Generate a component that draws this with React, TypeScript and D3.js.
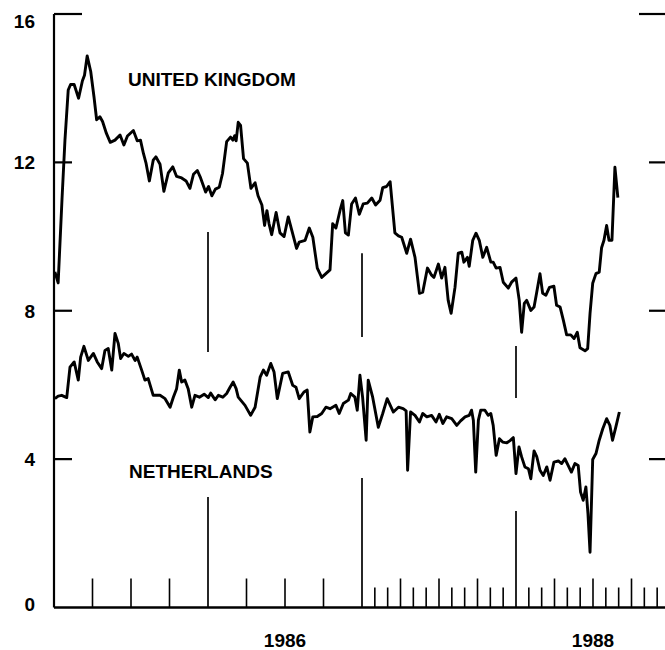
import React from "react";
import * as d3 from "d3";

// weeks since 1 Jan 1985, and yield values (percent)
const ukWeeks = [0.3,1.4,2.7,3.7,4.8,5.6,6.8,8.3,9.6,10.3,11.2,12.4,13.5,14.4,15.5,16.4,17.7,19.0,20.6,22.3,23.6,24.8,26.8,28.1,29.2,30.2,31.1,32.2,33.5,34.4,35.8,37.1,38.6,40.1,41.4,43.1,44.6,45.9,47.1,48.4,49.5,51.2,52.2,53.3,54.5,55.8,56.9,58.3,59.6,60.4,61.0,61.5,62.2,63.0,64.0,65.3,66.5,67.9,68.9,70.2,71.1,71.9,72.6,73.5,75.0,76.3,77.7,79.1,80.3,81.9,82.8,84.8,86.2,87.4,88.9,90.4,91.8,93.2,94.1,95.2,96.6,97.5,98.4,99.4,100.5,101.8,103.1,104.4,105.8,107.3,108.6,110.1,111.0,112.3,113.5,115.1,116.3,117.4,119.1,120.4,121.9,123.4,124.5,126.1,127.5,128.3,129.8,130.9,132.0,133.1,134.1,135.4,136.5,137.7,138.4,139.6,140.2,141.4,142.5,143.6,144.8,146.1,147.5,148.3,149.3,150.6,151.7,153.4,154.5,156.0,157.1,157.9,158.8,159.6,161.0,162.1,163.0,164.1,165.0,166.1,167.3,168.8,169.7,170.9,172.0,173.1,174.5,175.6,176.7,177.6,179.3,180.2,181.0,181.9,183.0,184.1,184.9,185.7,186.6,187.4,188.4,189.4,190.4];
const ukValues = [9.05,8.75,11.0,12.6,13.95,14.1,14.1,13.73,14.2,14.35,14.87,14.45,13.77,13.15,13.23,13.1,12.78,12.54,12.6,12.74,12.47,12.71,12.86,12.58,12.6,12.24,11.97,11.5,12.06,12.15,11.95,11.22,11.72,11.88,11.62,11.58,11.5,11.3,11.68,11.78,11.58,11.2,11.35,11.1,11.28,11.33,11.7,12.56,12.68,12.6,12.72,12.58,13.08,13.0,12.1,11.98,11.3,11.45,11.1,10.85,10.3,10.7,10.35,10.05,10.65,10.1,10.0,10.53,10.17,9.68,9.85,9.9,10.23,9.98,9.15,8.9,9.0,9.1,10.35,10.23,10.71,10.97,10.1,10.04,10.88,11.04,10.6,10.88,10.9,11.04,10.85,10.98,11.32,11.35,11.48,10.1,10.02,9.98,9.55,9.93,9.44,8.47,8.5,9.15,8.96,8.9,9.26,8.88,9.17,8.28,7.93,8.63,9.55,9.58,9.31,9.44,9.2,9.9,10.09,9.9,9.44,9.71,9.31,9.31,9.15,9.17,8.77,8.61,8.77,8.88,8.28,7.42,8.2,8.28,8.01,8.1,8.5,9.0,8.47,8.42,8.63,8.66,8.15,8.1,7.74,7.35,7.35,7.25,7.42,7.0,6.92,6.98,7.93,8.74,9.0,9.04,9.7,9.9,10.3,9.9,9.9,11.87,11.05];

const nlWeeks = [0.3,1.4,2.6,4.3,5.4,6.8,8.2,9.0,10.1,11.6,13.3,14.6,16.1,17.2,18.3,19.5,20.6,21.7,22.5,23.6,25.1,26.2,27.4,28.1,29.6,30.7,31.8,33.5,35.8,37.5,39.2,40.3,41.4,42.3,43.1,44.2,45.3,46.5,47.6,49.1,50.7,52.1,52.9,54.4,55.5,57.0,58.3,59.4,60.5,61.5,62.2,64.5,66.4,67.9,69.6,70.7,71.8,73.2,74.3,75.4,77.2,79.1,80.6,81.7,82.8,84.4,85.5,86.4,87.4,88.9,90.4,91.8,93.2,95.2,96.3,97.7,99.4,100.2,101.6,102.4,103.3,104.2,105.4,106.1,107.6,109.5,111.0,112.5,114.6,116.3,117.9,118.9,119.4,120.4,121.9,123.4,124.5,125.9,127.5,129.0,130.1,131.3,132.6,134.3,136.0,137.3,138.8,140.2,141.0,141.6,142.4,143.3,144.1,145.5,146.6,147.5,148.3,149.3,150.4,151.5,152.9,154.0,155.1,156.0,157.0,157.9,159.0,160.2,161.0,162.1,163.0,164.1,165.2,166.4,167.5,168.8,170.3,171.4,172.5,173.6,174.7,175.9,177.0,177.8,178.7,179.6,180.3,181.0,181.9,183.0,184.1,185.3,186.6,187.7,188.6,189.7,190.9];
const nlValues = [5.63,5.7,5.72,5.66,6.48,6.62,6.13,6.75,7.04,6.66,6.85,6.62,6.44,6.93,6.98,6.4,7.39,7.12,6.71,6.85,6.77,6.83,6.66,6.75,6.4,6.13,6.17,5.72,5.72,5.63,5.4,5.67,5.9,6.4,6.08,6.13,5.9,5.4,5.72,5.67,5.75,5.66,5.78,5.6,5.72,5.67,5.77,5.93,6.08,5.9,5.67,5.45,5.18,5.4,6.21,6.4,6.26,6.58,6.35,5.63,6.31,6.35,5.99,5.94,5.63,5.81,5.86,4.73,5.14,5.15,5.23,5.4,5.36,5.45,5.23,5.5,5.59,5.77,5.67,5.32,6.26,5.67,4.51,6.13,5.67,4.86,5.23,5.63,5.27,5.4,5.36,5.3,3.7,5.27,5.18,5.0,5.23,5.14,5.18,5.0,5.21,4.96,5.14,5.09,4.91,5.03,5.14,5.18,5.32,5.05,3.65,5.05,5.32,5.32,5.18,5.23,4.91,4.1,4.55,4.46,4.44,4.5,4.58,3.61,4.33,4.06,3.79,3.74,3.47,4.22,4.07,3.7,3.56,3.79,3.43,3.92,3.95,3.88,4.01,3.83,3.65,3.88,3.83,3.11,2.89,3.25,2.53,1.49,3.99,4.15,4.51,4.82,5.09,4.91,4.51,4.86,5.27];

const yTicks = [0, 4, 8, 12, 16];
const yearLabels = [1986, 1988];
const quarterTickYears = [1985, 1986];
const monthTickYears = [1987, 1988];
// year divider segments: [year, top value, bottom value]
const yearDividers: [number, number, number][] = [
  [1986, 10.12, 6.89], [1986, 2.98, 0],
  [1987, 9.55, 7.29], [1987, 3.49, 0],
  [1988, 7.05, 5.65], [1988, 2.6, 0],
];

export default function App() {
  const W = 665, H = 650;
  const x = d3.scaleLinear().domain([1985, 1989]).range([54, 670]);
  const y = d3.scaleLinear().domain([0, 16]).range([607.5, 14]);
  const wk = (w: number) => 1985 + w / 52;

  const line = d3.line<[number, number]>()
    .x((d) => x(wk(d[0])))
    .y((d) => y(d[1]));

  const uk = ukWeeks.map((w, i) => [w, ukValues[i]] as [number, number]);
  const nl = nlWeeks.map((w, i) => [w, nlValues[i]] as [number, number]);

  const font = "'Liberation Sans', Arial, Helvetica, sans-serif";
  const axisLeft = x(1985);
  const axisRight = 667;

  const smallTicks: { t: number; len: number }[] = [];
  quarterTickYears.forEach((yr) => {
    for (let q = 1; q < 4; q++) smallTicks.push({ t: yr + q / 4, len: 29 });
  });
  monthTickYears.forEach((yr) => {
    for (let m = 1; m < 12; m++) smallTicks.push({ t: yr + m / 12, len: m % 3 === 0 ? 29 : 20 });
  });

  return (
    <svg width={W} height={H} style={{ position: "fixed", left: 0, top: 0, background: "#fff" }}>
      <rect width={W} height={H} fill="#fff" />
      <line x1={axisLeft} x2={axisLeft} y1={y(16)} y2={y(0)} stroke="#000" strokeWidth={2.2} />
      <line x1={axisLeft} x2={W} y1={y(0)} y2={y(0)} stroke="#000" strokeWidth={2.4} />
      {yTicks.filter((v) => v > 0).map((v) => {
        const len = v === 16 ? 28 : 18;
        return (
          <g key={v}>
            <line x1={axisLeft} x2={axisLeft + len} y1={y(v)} y2={y(v)} stroke="#000" strokeWidth={2.2} />
            <line x1={axisRight - len} x2={axisRight} y1={y(v)} y2={y(v)} stroke="#000" strokeWidth={2.2} />
          </g>
        );
      })}
      {yTicks.map((v) => (
        <text key={v} x={35} y={y(v) + (v === 16 ? 14 : v === 0 ? 3 : 7)} textAnchor="end"
          fontFamily={font} fontWeight="bold" fontSize={19} fill="#000">{v}</text>
      ))}
      {smallTicks.filter((d) => x(d.t) < W).map((d, i) => (
        <line key={i} x1={x(d.t)} x2={x(d.t)} y1={y(0)} y2={y(0) - d.len} stroke="#000" strokeWidth={1.6} />
      ))}
      {yearDividers.map((d, i) => (
        <line key={i} x1={x(d[0])} x2={x(d[0])} y1={y(d[1])} y2={y(d[2])} stroke="#000" strokeWidth={1.7} />
      ))}
      {yearLabels.map((yr) => (
        <text key={yr} x={x(yr + 0.5)} y={647} textAnchor="middle" fontFamily={font}
          fontWeight="bold" fontSize={19} fill="#000">{yr}</text>
      ))}
      <path d={line(uk) || ""} fill="none" stroke="#000" strokeWidth={2.9} strokeLinejoin="round" />
      <path d={line(nl) || ""} fill="none" stroke="#000" strokeWidth={2.9} strokeLinejoin="round" />
      <text x={128} y={86} fontFamily={font} fontWeight="bold" fontSize={19} fill="#000">UNITED KINGDOM</text>
      <text x={129} y={478} fontFamily={font} fontWeight="bold" fontSize={19} fill="#000">NETHERLANDS</text>
    </svg>
  );
}
